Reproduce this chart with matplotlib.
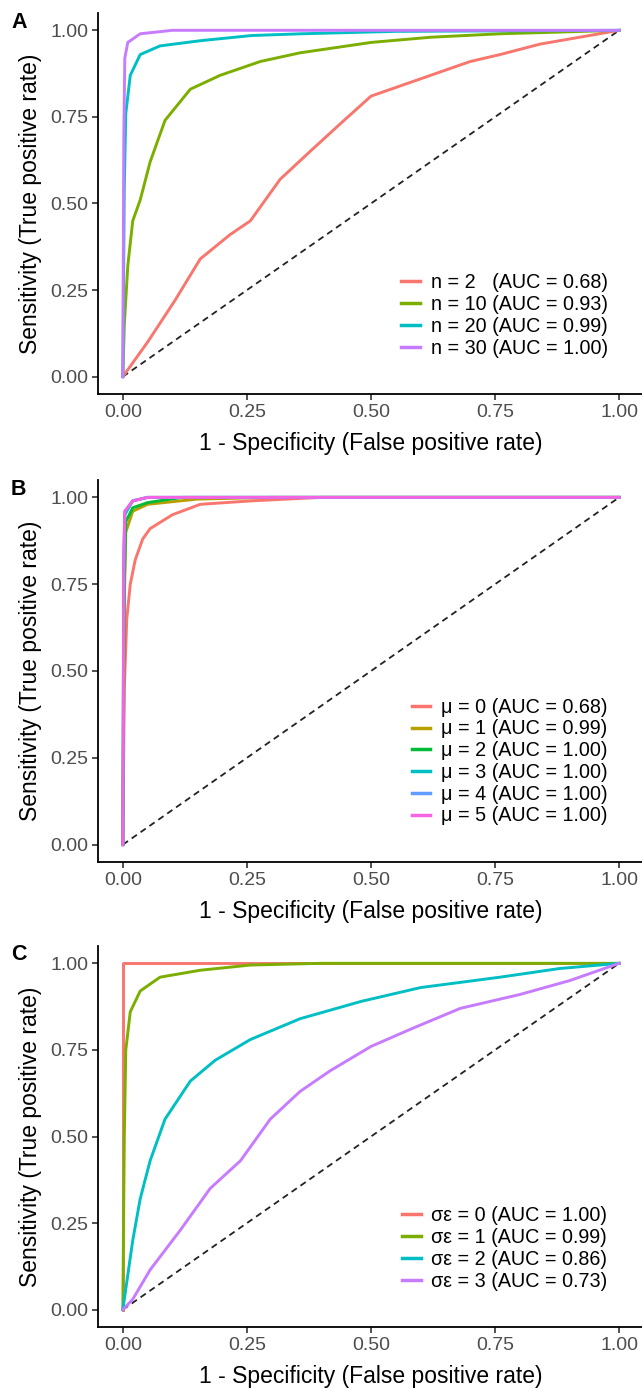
import matplotlib
matplotlib.use("Agg")
import matplotlib.pyplot as plt

plt.rcParams['font.family'] = ['Liberation Sans', 'DejaVu Sans']

# ---------------- Data ----------------
# Panel A: sample size n
a_labels = ["n = 2   (AUC = 0.68)", "n = 10 (AUC = 0.93)",
            "n = 20 (AUC = 0.99)", "n = 30 (AUC = 1.00)"]
a_colors = ["#F8766D", "#7CAE00", "#00BFC4", "#C77CFF"]
a_fpr = [
    [0, 0.02, 0.05, 0.105, 0.156, 0.216, 0.257, 0.317, 0.377, 0.438, 0.50, 0.56, 0.62, 0.70, 0.76, 0.84, 0.92, 1.0],
    [0, 0.003, 0.01, 0.02, 0.035, 0.055, 0.085, 0.136, 0.196, 0.277, 0.357, 0.50, 0.62, 0.76, 1.0],
    [0, 0.003, 0.006, 0.015, 0.035, 0.075, 0.156, 0.26, 0.36, 0.55, 1.0],
    [0, 0.002, 0.004, 0.01, 0.035, 0.10, 0.3, 1.0],
]
a_tpr = [
    [0, 0.04, 0.10, 0.22, 0.34, 0.41, 0.45, 0.57, 0.65, 0.73, 0.81, 0.84, 0.87, 0.91, 0.93, 0.96, 0.98, 1.0],
    [0, 0.15, 0.32, 0.45, 0.51, 0.62, 0.74, 0.83, 0.87, 0.91, 0.935, 0.965, 0.98, 0.99, 1.0],
    [0, 0.55, 0.76, 0.87, 0.93, 0.955, 0.97, 0.985, 0.99, 0.997, 1.0],
    [0, 0.70, 0.92, 0.965, 0.99, 1.0, 1.0, 1.0],
]

# Panel B: mean mu
b_labels = ["\u03bc = 0 (AUC = 0.68)", "\u03bc = 1 (AUC = 0.99)", "\u03bc = 2 (AUC = 1.00)",
            "\u03bc = 3 (AUC = 1.00)", "\u03bc = 4 (AUC = 1.00)", "\u03bc = 5 (AUC = 1.00)"]
b_colors = ["#F8766D", "#B79F00", "#00BA38", "#00BFC4", "#619CFF", "#F564E3"]
b_fpr = [
    [0, 0.003, 0.008, 0.015, 0.025, 0.04, 0.055, 0.10, 0.156, 0.26, 0.40, 1.0],
    [0, 0.003, 0.006, 0.02, 0.05, 0.15, 0.30, 1.0],
    [0, 0.003, 0.006, 0.02, 0.05, 0.12, 1.0],
    [0, 0.002, 0.004, 0.02, 0.05, 1.0],
    [0, 0.002, 0.004, 0.02, 0.05, 1.0],
    [0, 0.002, 0.004, 0.02, 0.05, 1.0],
]
b_tpr = [
    [0, 0.45, 0.65, 0.75, 0.82, 0.88, 0.91, 0.95, 0.98, 0.99, 1.0, 1.0],
    [0, 0.70, 0.90, 0.96, 0.98, 0.995, 1.0, 1.0],
    [0, 0.75, 0.93, 0.97, 0.985, 1.0, 1.0],
    [0, 0.80, 0.95, 0.99, 1.0, 1.0],
    [0, 0.80, 0.96, 0.99, 1.0, 1.0],
    [0, 0.85, 0.96, 0.99, 1.0, 1.0],
]

# Panel C: error sd
c_labels = ["\u03c3\u03b5 = 0 (AUC = 1.00)", "\u03c3\u03b5 = 1 (AUC = 0.99)",
            "\u03c3\u03b5 = 2 (AUC = 0.86)", "\u03c3\u03b5 = 3 (AUC = 0.73)"]
c_colors = ["#F8766D", "#7CAE00", "#00BFC4", "#C77CFF"]
c_fpr = [
    [0, 0.0, 0.0, 1.0],
    [0, 0.003, 0.006, 0.015, 0.035, 0.075, 0.156, 0.257, 0.40, 1.0],
    [0, 0.01, 0.02, 0.035, 0.055, 0.085, 0.136, 0.186, 0.257, 0.357, 0.48, 0.60, 0.76, 0.88, 1.0],
    [0, 0.02, 0.055, 0.116, 0.176, 0.237, 0.297, 0.357, 0.418, 0.50, 0.58, 0.68, 0.80, 0.90, 1.0],
]
c_tpr = [
    [0, 0.85, 1.0, 1.0],
    [0, 0.50, 0.75, 0.86, 0.92, 0.96, 0.98, 0.995, 1.0, 1.0],
    [0, 0.10, 0.20, 0.32, 0.43, 0.55, 0.66, 0.72, 0.78, 0.84, 0.89, 0.93, 0.96, 0.985, 1.0],
    [0, 0.03, 0.115, 0.23, 0.35, 0.43, 0.55, 0.63, 0.69, 0.76, 0.81, 0.87, 0.91, 0.95, 1.0],
]

panel_letters = ["A", "B", "C"]
ticks = [0.0, 0.25, 0.5, 0.75, 1.0]
tick_labels = ["0.00", "0.25", "0.50", "0.75", "1.00"]

# ---------------- Figure ----------------
W, H = 642, 1389
fig = plt.figure(figsize=(W / 100, H / 100), dpi=100)

left_px, right_px = 98, 644
panels_px = [(13, 394), (480, 862), (946, 1327)]
letter_y = [22, 490, 955]

datasets = [
    (a_fpr, a_tpr, a_colors, a_labels),
    (b_fpr, b_tpr, b_colors, b_labels),
    (c_fpr, c_tpr, c_colors, c_labels),
]

for (top, bot), (fprs, tprs, cols, labs), letter, ly in zip(panels_px, datasets, panel_letters, letter_y):
    ax = fig.add_axes([left_px / W, 1 - bot / H, (right_px - left_px) / W, (bot - top) / H])
    ax.plot([0, 1], [0, 1], ls=(0, (3.5, 2.5)), color="#222222", lw=1.3, zorder=1)
    for fx, ty, c, lab in zip(fprs, tprs, cols, labs):
        ax.plot(fx, ty, color=c, lw=2.1, label=lab, zorder=2, solid_joinstyle="round")
    ax.set_xlim(-0.05, 1.05)
    ax.set_ylim(-0.05, 1.05)
    ax.set_xticks(ticks)
    ax.set_xticklabels(tick_labels)
    ax.set_yticks(ticks)
    ax.set_yticklabels(tick_labels)
    for s in ["top", "right"]:
        ax.spines[s].set_visible(False)
    for s in ["left", "bottom"]:
        ax.spines[s].set_linewidth(1.3)
        ax.spines[s].set_color("black")
    ax.tick_params(axis="both", direction="out", length=4, width=1.2, color="#333333",
                   labelsize=14, labelcolor="#4D4D4D", pad=3)
    ax.set_xlabel("1 - Specificity (False positive rate)", fontsize=16.5, labelpad=8)
    ax.set_ylabel("Sensitivity (True positive rate)", fontsize=16.5, labelpad=6)
    leg = ax.legend(loc="lower right", bbox_to_anchor=(0.948, 0.075), frameon=False,
                    fontsize=14.2, handlelength=0.95, handletextpad=0.55,
                    labelspacing=0.14, borderaxespad=0)
    for h in leg.get_lines():
        h.set_linewidth(2.5)
    fig.text(11 / W, 1 - ly / H, letter, fontsize=15.5, fontweight="bold",
             ha="left", va="center")

fig.savefig("out.png", dpi=100)
